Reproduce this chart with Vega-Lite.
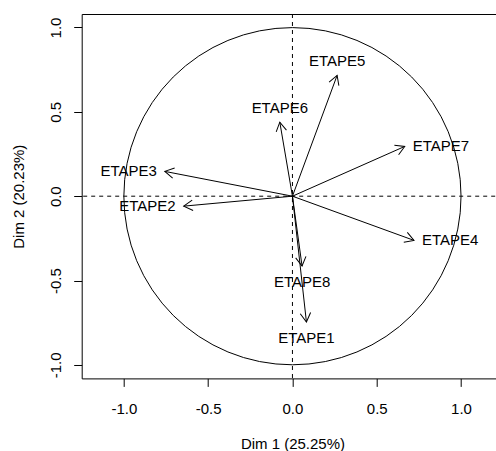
{
  "$schema": "https://vega.github.io/schema/vega-lite/v6.json",
  "autosize": {"type": "none"},
  "padding": {"left": 81.7, "top": 14, "right": 0, "bottom": 72.6},
  "width": 421.5,
  "height": 364.4,
  "background": "white",
  "config": {
    "font": "Liberation Sans",
    "view": {"stroke": "black", "strokeWidth": 1},
    "axis": {
      "grid": false, "domain": false, "ticks": true, "tickColor": "black", "tickSize": 8, "tickWidth": 1,
      "labelColor": "black", "labelFontSize": 15, "labelFont": "Liberation Sans",
      "titleFontSize": 15, "titleFontWeight": "normal", "titleColor": "black", "titleFont": "Liberation Sans",
      "labelOverlap": false, "labelFlush": false
    },
    "axisX": {
      "labelBaseline": "alphabetic", "labelAlign": "center", "labelPadding": 27.3,
      "titleX": 210.75, "titleY": 70.6, "titleBaseline": "alphabetic", "titleAlign": "center"
    },
    "axisY": {
      "labelAngle": 270, "labelAlign": "center", "labelBaseline": "alphabetic", "labelPadding": 13.3,
      "titleX": -57.7, "titleY": 182.2, "titleAngle": 270, "titleBaseline": "alphabetic", "titleAlign": "center"
    }
  },
  "datasets": {
    "vars": [
      {"name": "ETAPE1", "x": 0.083, "y": -0.746, "pos": "below"},
      {"name": "ETAPE2", "x": -0.645, "y": -0.059, "pos": "left"},
      {"name": "ETAPE3", "x": -0.757, "y": 0.147, "pos": "left"},
      {"name": "ETAPE4", "x": 0.721, "y": -0.262, "pos": "right"},
      {"name": "ETAPE5", "x": 0.265, "y": 0.716, "pos": "above"},
      {"name": "ETAPE6", "x": -0.075, "y": 0.439, "pos": "above"},
      {"name": "ETAPE7", "x": 0.666, "y": 0.295, "pos": "right"},
      {"name": "ETAPE8", "x": 0.057, "y": -0.414, "pos": "below"}
    ],
    "origin": [{"cx": 0, "cy": 0}]
  },
  "layer": [
    {
      "data": {"name": "origin"},
      "mark": {"type": "point", "shape": "circle", "size": 113700, "filled": false, "stroke": "black", "strokeWidth": 1, "opacity": 1},
      "encoding": {
        "x": {"field": "cx", "type": "quantitative", "scale": {"domain": [-1.25, 1.25], "nice": false, "zero": false}, "title": "Dim 1 (25.25%)", "axis": {"values": [-1, -0.5, 0, 0.5, 1], "format": ".1f", "labelExpr": "replace(datum.label, '\u2212', '-')"}},
        "y": {"field": "cy", "type": "quantitative", "scale": {"domain": [-1.08, 1.08], "nice": false, "zero": false}, "title": "Dim 2 (20.23%)", "axis": {"values": [-1, -0.5, 0, 0.5, 1], "format": ".1f", "labelExpr": "replace(datum.label, '\u2212', '-')"}}
      }
    },
    {
      "data": {"name": "origin"},
      "mark": {"type": "rule", "stroke": "black", "strokeWidth": 1, "strokeDash": [4, 4]},
      "encoding": {
        "x": {"field": "cx", "type": "quantitative", "scale": {"domain": [-1.25, 1.25], "nice": false, "zero": false}, "title": "Dim 1 (25.25%)"}
      }
    },
    {
      "data": {"name": "origin"},
      "mark": {"type": "rule", "stroke": "black", "strokeWidth": 1, "strokeDash": [4, 4]},
      "encoding": {
        "y": {"field": "cy", "type": "quantitative", "scale": {"domain": [-1.08, 1.08], "nice": false, "zero": false}, "title": "Dim 2 (20.23%)"}
      }
    },
    {
      "data": {"name": "vars"},
      "mark": {"type": "rule", "stroke": "black", "strokeWidth": 1},
      "encoding": {
        "x": {"field": "x", "type": "quantitative", "scale": {"domain": [-1.25, 1.25], "nice": false, "zero": false}, "title": "Dim 1 (25.25%)"},
        "y": {"field": "y", "type": "quantitative", "scale": {"domain": [-1.08, 1.08], "nice": false, "zero": false}, "title": "Dim 2 (20.23%)"},
        "x2": {"datum": 0},
        "y2": {"datum": 0}
      }
    },
    {
      "data": {"name": "vars"},
      "transform": [{"calculate": "atan2(datum.x, datum.y) * 180 / PI", "as": "ang"}],
      "mark": {"type": "point", "shape": "M -0.577 1 L 0 0 L 0.577 1", "size": 324, "filled": false, "stroke": "black", "strokeWidth": 1, "opacity": 1},
      "encoding": {
        "x": {"field": "x", "type": "quantitative", "scale": {"domain": [-1.25, 1.25], "nice": false, "zero": false}, "title": "Dim 1 (25.25%)"},
        "y": {"field": "y", "type": "quantitative", "scale": {"domain": [-1.08, 1.08], "nice": false, "zero": false}, "title": "Dim 2 (20.23%)"},
        "angle": {"field": "ang", "type": "quantitative", "scale": null}
      }
    },
    {
      "data": {"name": "vars"},
      "transform": [{"filter": "datum.pos == 'above'"}],
      "mark": {"type": "text", "fontSize": 15, "font": "Liberation Sans", "color": "black", "align": "center", "baseline": "middle", "dy": -14},
      "encoding": {
        "x": {"field": "x", "type": "quantitative", "scale": {"domain": [-1.25, 1.25], "nice": false, "zero": false}, "title": "Dim 1 (25.25%)"},
        "y": {"field": "y", "type": "quantitative", "scale": {"domain": [-1.08, 1.08], "nice": false, "zero": false}, "title": "Dim 2 (20.23%)"},
        "text": {"field": "name"}
      }
    },
    {
      "data": {"name": "vars"},
      "transform": [{"filter": "datum.pos == 'below'"}],
      "mark": {"type": "text", "fontSize": 15, "font": "Liberation Sans", "color": "black", "align": "center", "baseline": "middle", "dy": 16},
      "encoding": {
        "x": {"field": "x", "type": "quantitative", "scale": {"domain": [-1.25, 1.25], "nice": false, "zero": false}, "title": "Dim 1 (25.25%)"},
        "y": {"field": "y", "type": "quantitative", "scale": {"domain": [-1.08, 1.08], "nice": false, "zero": false}, "title": "Dim 2 (20.23%)"},
        "text": {"field": "name"}
      }
    },
    {
      "data": {"name": "vars"},
      "transform": [{"filter": "datum.pos == 'left'"}],
      "mark": {"type": "text", "fontSize": 15, "font": "Liberation Sans", "color": "black", "align": "right", "baseline": "middle", "dx": -8},
      "encoding": {
        "x": {"field": "x", "type": "quantitative", "scale": {"domain": [-1.25, 1.25], "nice": false, "zero": false}, "title": "Dim 1 (25.25%)"},
        "y": {"field": "y", "type": "quantitative", "scale": {"domain": [-1.08, 1.08], "nice": false, "zero": false}, "title": "Dim 2 (20.23%)"},
        "text": {"field": "name"}
      }
    },
    {
      "data": {"name": "vars"},
      "transform": [{"filter": "datum.pos == 'right'"}],
      "mark": {"type": "text", "fontSize": 15, "font": "Liberation Sans", "color": "black", "align": "left", "baseline": "middle", "dx": 8},
      "encoding": {
        "x": {"field": "x", "type": "quantitative", "scale": {"domain": [-1.25, 1.25], "nice": false, "zero": false}, "title": "Dim 1 (25.25%)"},
        "y": {"field": "y", "type": "quantitative", "scale": {"domain": [-1.08, 1.08], "nice": false, "zero": false}, "title": "Dim 2 (20.23%)"},
        "text": {"field": "name"}
      }
    }
  ]
}
